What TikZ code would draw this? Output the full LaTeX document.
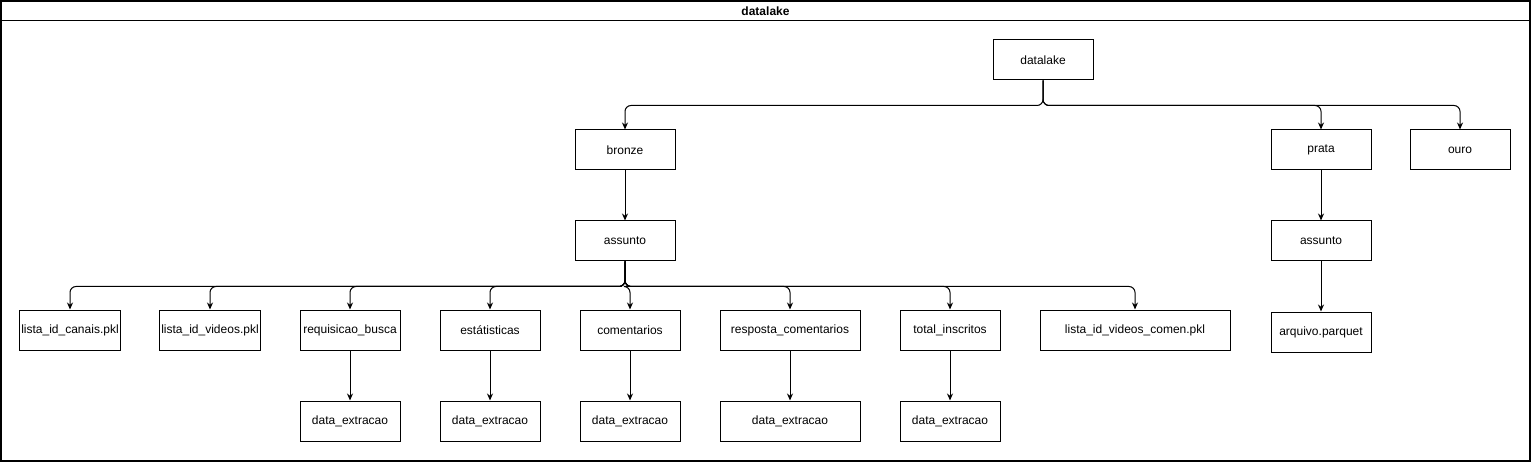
\documentclass[tikz,border=0pt]{standalone}
\usepackage{fontspec}
\setmainfont{Liberation Sans}
\usetikzlibrary{arrows.meta,positioning}
\tikzset{
  >={Stealth[length=7pt,width=6pt]},
  box/.style={
    rectangle, draw=black, line width=1pt,
    fill=white, minimum width=100pt, minimum height=40pt,
    inner sep=2pt, font=\fontsize{12}{14}\selectfont
  },
  arrow/.style={->, line width=1pt, draw=black, rounded corners=6pt},
}

\begin{document}
\begin{tikzpicture}[x=1pt, y=-1pt, node distance=50pt]
\useasboundingbox (0,0) rectangle (1531,462);
% --- Frame ---
\draw[line width=1.2pt] (1,1) rectangle (1530,461);
\draw[line width=1.2pt] (1,20.5) -- (1530,20.5);
\node[font=\bfseries\fontsize{12}{14}\selectfont] (title) at (765.5,11) {datalake};
% --- Nodes ---
\node[box] (datalake) at (1043,60) {datalake};
\node[box] (bronze) at (625,150) {bronze};
\node[box] (prata) at (1321,150) {prata};
\node[box] (ouro) at (1460,150) {ouro};
\node[box, below=of bronze] (assuntob) {assunto};
\node[box, below=of prata] (assuntop) {assunto};
\node[box, below=of assuntop] (parquet) {arquivo.parquet};
% files and folders under bronze/assunto
\node[box] (canais) at (70,330) {lista\_id\_canais.pkl};
\node[box] (videos) at (210,330) {lista\_id\_videos.pkl};
\node[box] (busca) at (350,330) {requisicao\_busca};
\node[box] (estat) at (490,330) {estátisticas};
\node[box] (coment) at (630,330) {comentarios};
\node[box, minimum width=140pt] (resposta) at (790,330) {resposta\_comentarios};
\node[box] (inscritos) at (950,330) {total\_inscritos};
\node[box, minimum width=190pt] (vcomen) at (1135,330) {lista\_id\_videos\_comen.pkl};
\node[box, below=of busca] (dbusca) {data\_extracao};
\node[box, below=of estat] (destat) {data\_extracao};
\node[box, below=of coment] (dcoment) {data\_extracao};
\node[box, minimum width=140pt, below=of resposta] (dresposta) {data\_extracao};
\node[box, below=of inscritos] (dinscritos) {data\_extracao};
% --- Arrows ---
\foreach \dst in {bronze, prata, ouro}
  \draw[arrow] (datalake.south) -- ++(0,25) -| (\dst.north);
\draw[arrow] (bronze) -- (assuntob);
\draw[arrow] (prata) -- (assuntop);
\draw[arrow] (assuntop) -- (parquet);
\foreach \dst in {canais, videos, busca, estat, coment, resposta, inscritos, vcomen}
  \draw[arrow] (assuntob.south) -- ++(0,25) -| (\dst.north);
\draw[arrow] (busca) -- (dbusca);
\draw[arrow] (estat) -- (destat);
\draw[arrow] (coment) -- (dcoment);
\draw[arrow] (resposta) -- (dresposta);
\draw[arrow] (inscritos) -- (dinscritos);
\end{tikzpicture}
\end{document}
